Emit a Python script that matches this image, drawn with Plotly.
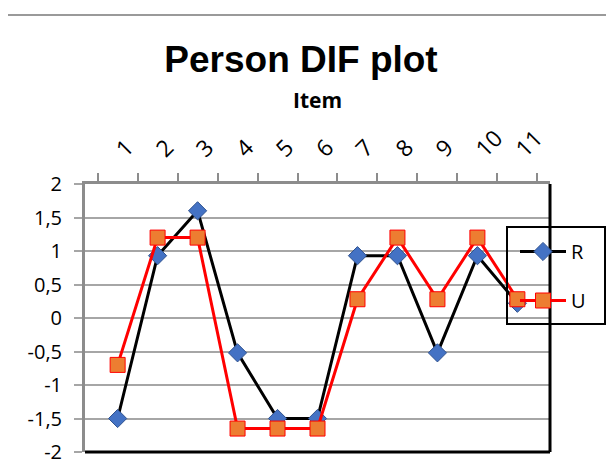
import plotly.graph_objects as go

items = ["1", "2", "3", "4", "5", "6", "7", "8", "9", "10", "11"]
r_values = [-1.5, 0.93, 1.6, -0.52, -1.5, -1.5, 0.93, 0.93, -0.52, 0.93, 0.22]
u_values = [-0.7, 1.2, 1.2, -1.65, -1.65, -1.65, 0.28, 1.2, 0.28, 1.2, 0.28]
y_ticks = [-2, -1.5, -1, -0.5, 0, 0.5, 1, 1.5, 2]
y_tick_labels = ["-2", "-1,5", "-1", "-0,5", "0", "0,5", "1", "1,5", "2"]

fig = go.Figure()
fig.add_trace(go.Scatter(
    x=items, y=r_values, name="R", mode="lines+markers", legendgroup="R",
    line=dict(color="black", width=3),
    marker=dict(symbol="diamond", size=14, color="#4472C4",
                line=dict(color="#2F528F", width=1)),
))
fig.add_trace(go.Scatter(
    x=items, y=u_values, name="U", mode="lines+markers", legendgroup="U",
    line=dict(color="#FF0000", width=3),
    marker=dict(symbol="square", size=15, color="#ED7D31",
                line=dict(color="#FF0000", width=1)),
))

# page body has an 8px default margin: work in target screen pixels
OFF = 8
W, H = 614, 462
L, T = 85 - OFF, 184 - OFF
R = W - (550 - OFF)
B = H - (452 - OFF)
pw, ph = W - L - R, H - T - B

def px(x):
    return (x - OFF - L) / pw

def py(y):
    return (H - B - (y - OFF)) / ph

shapes = [
    # separator line at top of picture
    dict(type="line", xref="paper", yref="paper", x0=px(8), x1=px(630),
         y0=py(15), y1=py(15), line=dict(color="#9a9a9a", width=2), layer="above"),
    # legend background (between gridlines and traces)
    dict(type="rect", xref="paper", yref="paper", x0=px(507), x1=px(605),
         y0=py(324), y1=py(227), fillcolor="white", line=dict(width=0), layer="between"),
    # legend border
    dict(type="rect", xref="paper", yref="paper", x0=px(507), x1=px(605),
         y0=py(324), y1=py(227), line=dict(color="black", width=2), layer="above"),
    # right and bottom plot borders
    dict(type="line", xref="paper", yref="paper", x0=1, x1=1, y0=0, y1=1,
         line=dict(color="black", width=3), layer="above"),
    dict(type="line", xref="paper", yref="paper", x0=0, x1=1, y0=0, y1=0,
         line=dict(color="black", width=3), layer="above"),
]

fig.update_layout(
    width=W, height=H,
    margin=dict(l=L, r=R, t=T, b=B, autoexpand=False),
    paper_bgcolor="white", plot_bgcolor="white",
    title=dict(text="<b>Person DIF plot</b>", x=(301 - OFF) / W, xref="container",
               xanchor="center", y=1 - (59 - OFF) / H, yref="container", yanchor="middle",
               font=dict(family="Liberation Sans", size=37, color="black")),
    showlegend=True,
    legend=dict(x=px(515), y=py(232), xanchor="left", yanchor="top",
                bgcolor="rgba(0,0,0,0)", borderwidth=0,
                font=dict(family="Open Sans", size=20, color="black"),
                traceorder="grouped", tracegroupgap=20, itemwidth=46),
    shapes=shapes,
    xaxis=dict(
        type="category", side="top", tickson="boundaries", automargin=False,
        ticks="outside", ticklen=8, tickcolor="#8c8c8c", tickwidth=1.5,
        showline=True, linecolor="#8c8c8c", linewidth=3,
        showgrid=False, tickangle=-45, ticklabelstandoff=10,
        tickfont=dict(family="Open Sans", size=23, color="black"),
        title=dict(text="<b>Item</b>", standoff=8,
                   font=dict(family="Open Sans", size=21, color="black")),
    ),
    yaxis=dict(
        range=[-2, 2], tickvals=y_ticks, ticktext=y_tick_labels, automargin=False,
        ticks="outside", ticklen=8, tickcolor="#a6a6a6", tickwidth=1.5,
        showline=True, linecolor="#8c8c8c", linewidth=3,
        showgrid=True, gridcolor="#a6a6a6", gridwidth=1.5,
        zeroline=False, ticklabelstandoff=8,
        tickfont=dict(family="Open Sans", size=20, color="black"),
    ),
)

fig.write_html("out.html")
